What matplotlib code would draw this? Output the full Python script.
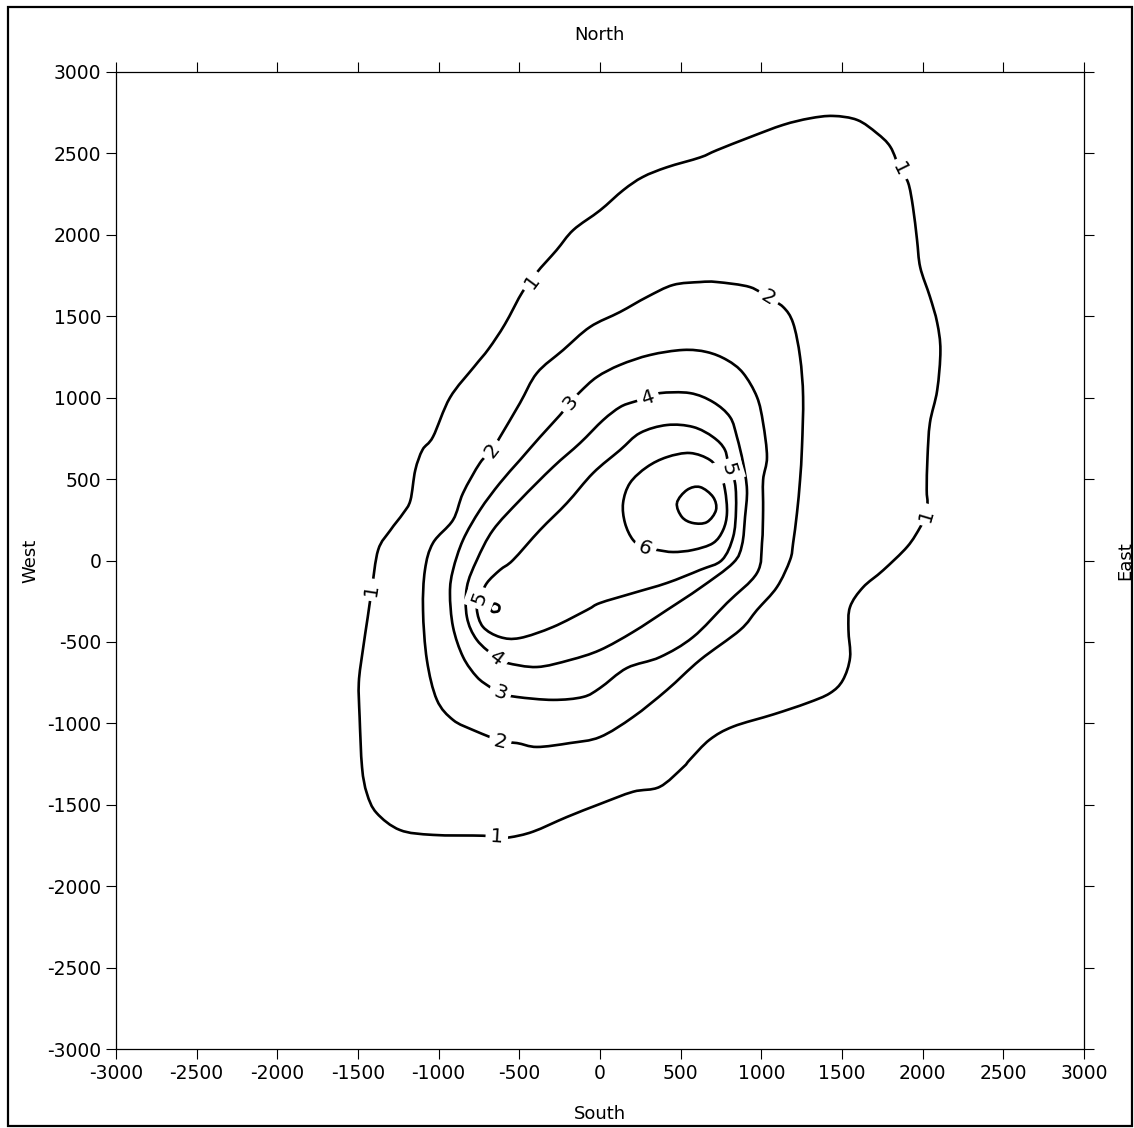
import numpy as np
import matplotlib
matplotlib.use("Agg")
import matplotlib.pyplot as plt
from matplotlib.patches import Rectangle, PathPatch
from matplotlib.path import Path

plt.rcParams['font.family'] = ['DejaVu Sans']
plt.rcParams['axes.unicode_minus'] = False

# contour lines (x = south/north axis, y = west/east axis)
contour_1 = [(-640, -1700), (-725, -1690), (-1035, -1685), (-1240, -1655), (-1385, -1550),
             (-1445, -1430), (-1475, -1270), (-1490, -960), (-1495, -750), (-1470, -550),
             (-1440, -350), (-1415, -180), (-1375, 65), (-1300, 185), (-1220, 290),
             (-1175, 370), (-1145, 555), (-1100, 680), (-1035, 760), (-930, 1000),
             (-780, 1190), (-690, 1300), (-590, 1450), (-480, 1650), (-420, 1710),
             (-390, 1770), (-270, 1905), (-165, 2030), (0, 2150), (145, 2275),
             (265, 2355), (415, 2415), (620, 2475), (725, 2520), (930, 2600),
             (1135, 2675), (1300, 2715), (1445, 2730), (1595, 2705), (1715, 2625),
             (1800, 2540), (1860, 2400), (1910, 2320), (1940, 2170), (1965, 1970),
             (1985, 1800), (2045, 1620), (2090, 1460), (2110, 1290), (2090, 1045),
             (2045, 845), (2030, 635), (2025, 435), (2030, 355), (2020, 280),
             (1985, 205), (1905, 85), (1755, -60), (1630, -165), (1550, -285),
             (1540, -425), (1550, -595), (1505, -735), (1425, -815), (1285, -875),
             (1075, -945), (825, -1020), (680, -1100), (560, -1220), (515, -1270),
             (370, -1390), (205, -1420), (0, -1495), (-205, -1575), (-415, -1665),
             (-560, -1700)]
labels_1 = [0, 11, 24, 41, 54]

contour_2 = [(-620, -1114), (-682, -1084), (-787, -1041), (-911, -979), (-1011, -856),
             (-1073, -611), (-1097, -304), (-1085, -58), (-1035, 108), (-911, 249),
             (-849, 414), (-744, 599), (-670, 678), (-620, 758), (-496, 967),
             (-391, 1151), (-229, 1292), (-62, 1434), (124, 1526), (291, 1618),
             (453, 1692), (620, 1710), (725, 1710), (930, 1679), (1042, 1612),
             (1135, 1557), (1197, 1458), (1240, 1250), (1259, 1004), (1252, 697),
             (1240, 494), (1221, 292), (1197, 107), (1178, 3), (1097, -163),
             (973, -304), (868, -427), (620, -611), (415, -795), (205, -961),
             (0, -1084), (-186, -1121), (-391, -1145), (-515, -1121)]
labels_2 = [0, 12, 24]

contour_3 = [(-620, -814), (-682, -777), (-763, -715), (-849, -592), (-911, -408),
             (-930, -200), (-911, -58), (-849, 126), (-744, 310), (-620, 476),
             (-496, 617), (-372, 758), (-248, 893), (-186, 967), (-124, 1035),
             (-19, 1127), (124, 1201), (310, 1262), (515, 1293), (663, 1280),
             (787, 1231), (887, 1151), (973, 1004), (1011, 844), (1035, 635),
             (1011, 494), (1011, 310), (1004, 107), (973, -77), (787, -261),
             (577, -470), (372, -593), (167, -660), (0, -783), (-105, -838),
             (-291, -856), (-515, -838)]
labels_3 = [0, 13]

contour_4 = [(298, 998), (372, 1028), (558, 1028), (701, 973), (806, 881),
             (849, 758), (887, 599), (911, 433), (899, 267), (880, 95),
             (825, -15), (620, -169), (415, -304), (205, -439), (0, -550),
             (-186, -611), (-391, -654), (-577, -629), (-639, -599), (-763, -488),
             (-825, -347), (-825, -163), (-763, 3), (-663, 187), (-496, 371),
             (-291, 574), (-124, 721), (19, 862), (124, 942), (205, 973)]
labels_4 = [0, 18]

contour_5 = [(-744, -230), (-701, -138), (-620, -58), (-539, 3), (-372, 187),
             (-205, 353), (-43, 537), (124, 678), (248, 783), (415, 832),
             (577, 820), (701, 758), (775, 678), (800, 556), (837, 476),
             (843, 310), (825, 144), (756, 3), (620, -58), (415, -138),
             (205, -200), (0, -261), (-81, -304), (-291, -408), (-496, -476),
             (-620, -470), (-725, -408), (-763, -304)]
labels_5 = [0, 13]

contour_6 = [(279, 77), (205, 126), (155, 230), (143, 353), (186, 476),
             (291, 574), (415, 635), (558, 660), (682, 617), (744, 537),
             (775, 433), (787, 292), (763, 187), (701, 107), (577, 65),
             (453, 52), (353, 65)]
labels_6 = [0]

contour_6_small = [(-680, -290), (-655, -265), (-625, -280), (-630, -310), (-665, -315)]

contour_7 = [(477, 353), (539, 433), (620, 451), (701, 390), (719, 310),
             (663, 236), (577, 230), (508, 267)]

ticks = np.arange(-3000, 3001, 500)

fig = plt.figure(figsize=(11.34, 11.28), dpi=100)
ax = fig.add_axes([0.1023, 0.0700, 0.8536, 0.8662])
ax.set_xlim(-3000, 3000)
ax.set_ylim(-3000, 3000)

fig.patches.append(Rectangle((0.007, 0.002), 0.991, 0.9918, transform=fig.transFigure,
                             fill=False, ec='black', lw=1.6))


def smooth_path(pts):
    # closed curve through the points, drawn as cubic Bezier segments
    p = np.array(pts, dtype=float)
    n = len(p)
    verts = [p[0]]
    codes = [Path.MOVETO]
    for i in range(n):
        p0, p1, p2, p3 = p[i - 1], p[i], p[(i + 1) % n], p[(i + 2) % n]
        verts += [p1 + (p2 - p0) / 6, p2 - (p3 - p1) / 6, p2]
        codes += [Path.CURVE4] * 3
    return Path(verts, codes)


def draw_contour(pts, label_idx, text):
    n = len(pts)
    ax.add_patch(PathPatch(smooth_path(pts), fill=False, ec='black', lw=1.9,
                           joinstyle='round', zorder=2))
    for i in label_idx:
        a = ax.transData.transform(pts[i - 1])
        b = ax.transData.transform(pts[(i + 1) % n])
        ang = np.degrees(np.arctan2(b[1] - a[1], b[0] - a[0]))
        if ang > 90:
            ang -= 180
        if ang < -90:
            ang += 180
        ax.text(pts[i][0], pts[i][1], text, rotation=ang, rotation_mode='anchor',
                ha='center', va='center', fontsize=14.5, zorder=3,
                bbox=dict(fc='white', ec='none', pad=3.5))


draw_contour(contour_1, labels_1, '1')
draw_contour(contour_2, labels_2, '2')
draw_contour(contour_3, labels_3, '3')
draw_contour(contour_4, labels_4, '4')
draw_contour(contour_5, labels_5, '5')
draw_contour(contour_6, labels_6, '6')
draw_contour(contour_6_small, [], '6')
draw_contour(contour_7, [], '7')

ax.set_xticks(ticks)
ax.set_yticks(ticks)
ax.tick_params(direction='out', length=7, width=0.8, labelsize=13.5,
               top=True, right=True, labeltop=False, labelright=False)
for s in ax.spines.values():
    s.set_linewidth(0.9)

ax.set_xlabel('South', fontsize=13, labelpad=16)
ax.set_ylabel('West', fontsize=13, labelpad=6)
fig.text(0.529, 0.969, 'North', ha='center', va='center', fontsize=13)
fig.text(0.992, 0.503, 'East', ha='center', va='center', fontsize=13, rotation=90)

fig.savefig('out.png', dpi=100)
